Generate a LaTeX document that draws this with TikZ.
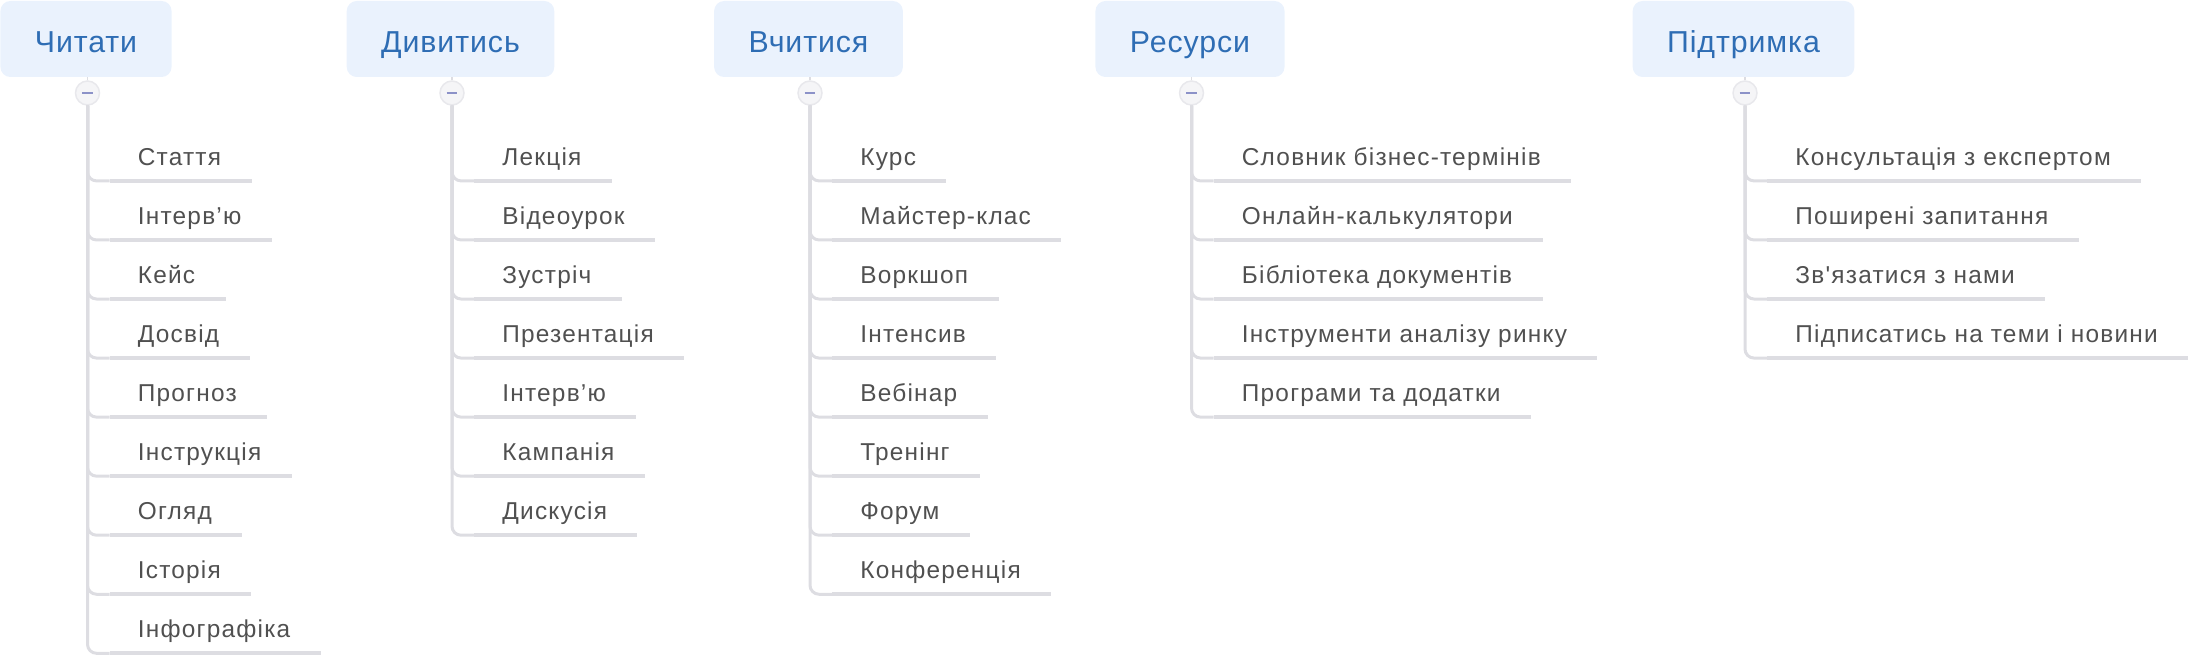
\documentclass[tikz,border=0pt]{standalone}
\usepackage{fontspec}
\newfontfamily\itemfont[LetterSpace=5]{Liberation Sans}
\newfontfamily\headfont[LetterSpace=3]{Liberation Sans}
\definecolor{headfill}{RGB}{234,242,253}
\definecolor{headblue}{RGB}{46,109,180}
\definecolor{itemtext}{RGB}{80,80,80}
\definecolor{linegray}{RGB}{221,221,226}
\definecolor{circfill}{RGB}{245,245,247}
\definecolor{circdraw}{RGB}{232,232,236}
\definecolor{minuscol}{RGB}{140,146,200}
\begin{document}
\begin{tikzpicture}[x=0.5pt,y=-0.5pt,
  head/.style={rounded corners=5pt, fill=headfill, text=headblue,
    font=\headfont\fontsize{15.15pt}{18pt}\selectfont,
    inner xsep=17.25pt, inner ysep=0pt, text height=26pt, text depth=12pt, anchor=base},
  collapse/.style={circle, minimum size=12pt, inner sep=0pt, fill=circfill, draw=circdraw, line width=0.75pt},
  minus/.style={draw=minuscol, line width=1.25pt},
  item/.style={font=\itemfont\fontsize{12.2pt}{14pt}\selectfont, text=itemtext,
    inner sep=0pt, text depth=7.75pt, anchor=base west},
  branch/.style={draw=linegray, line width=1.5pt, rounded corners=4.5pt},
  stub/.style={draw=linegray, line width=0.75pt},
  under/.style={draw=linegray, line width=2pt}]
\useasboundingbox (0,0) rectangle (2194,658);
\foreach \col/\cx/\title/\items in {
  1/86/Читати/{Стаття,Інтерв’ю,Кейс,Досвід,Прогноз,Інструкція,Огляд,Історія,Інфографіка},
  2/450.5/Дивитись/{Лекція,Відеоурок,Зустріч,Презентація,Інтерв’ю,Кампанія,Дискусія},
  3/808.5/Вчитися/{Курс,Майстер-клас,Воркшоп,Інтенсив,Вебінар,Тренінг,Форум,Конференція},
  4/1190/Ресурси/{Словник бізнес-термінів,Онлайн-калькулятори,Бібліотека документів,Інструменти аналізу ринку,Програми та додатки},
  5/1743.5/Підтримка/{Консультація з експертом,Поширені запитання,Зв'язатися з нами,Підписатись на теми і новини}}{
  \node[head] (h\col) at (\cx,53) {\title};
  \node[collapse] (o\col) at ({\cx+1.5},93) {};
  \draw[stub] (o\col.north) -- (o\col.north |- h\col.south);
  \draw[minus] ([xshift=-2.7pt]o\col.center) -- ([xshift=2.7pt]o\col.center);
  \foreach \t [count=\k] in \items {
    \node[item] (i\col-\k) at ({\cx+51.5},{165+59.05*(\k-1)}) {\t};
    \draw[branch] (o\col.south) |- ([xshift=-14pt]i\col-\k.south west);
    \draw[under] ([xshift=-14pt]i\col-\k.south west) -- ([xshift=15pt]i\col-\k.south east);
  }
}
\end{tikzpicture}
\end{document}
